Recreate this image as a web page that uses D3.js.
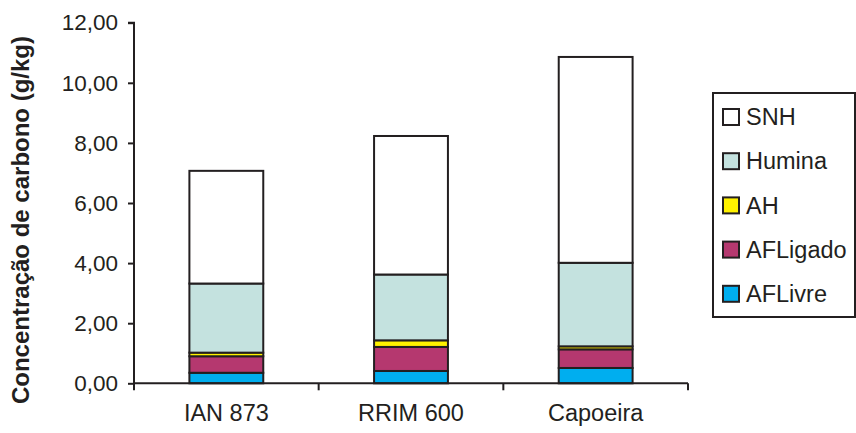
<!DOCTYPE html>
<html><head><meta charset="utf-8">
<script src="https://cdn.jsdelivr.net/npm/d3@7"></script>
<style>body{margin:0;background:#fff}svg{display:block}text{font-family:"Liberation Sans",Arial,sans-serif;fill:#231f20}</style>
</head><body><svg id="c" width="856" height="433"></svg>
<script>
const categories = ["IAN 873", "RRIM 600", "Capoeira"];
const seriesNames = ["AFLivre", "AFLigado", "AH", "Humina", "SNH"];
const AFLivre  = [0.35, 0.41, 0.51];
const AFLigado = [0.55, 0.80, 0.62];
const AH       = [0.12, 0.22, 0.10];
const Humina   = [2.30, 2.19, 2.78];
const SNH      = [3.75, 4.61, 6.85];
const yTicks = [0, 2, 4, 6, 8, 10, 12];
const colors = ["#00aeef", "#b5386f", "#fff200", "#c4e2df", "#ffffff"];
const legendOrder = ["SNH", "Humina", "AH", "AFLigado", "AFLivre"];
const yTitle = "Concentração de carbono (g/kg)";

const values = {AFLivre, AFLigado, AH, Humina, SNH};
const rows = categories.map((c, i) => {
  const r = {cat: c};
  seriesNames.forEach(s => r[s] = values[s][i]);
  return r;
});
const stack = d3.stack().keys(seriesNames)(rows);

const svg = d3.select("#c");
const ink = "#231f20";
const FF = '"Liberation Sans",Arial,sans-serif';
const x0 = 134, x1 = 688, yTop = 22.7, yBot = 383.3;
const x = d3.scaleBand().domain(categories).range([x0, x1]).paddingInner(0.6).paddingOuter(0.3);
const y = d3.scaleLinear().domain([0, 12]).range([yBot, yTop]);
const color = d3.scaleOrdinal().domain(seriesNames).range(colors);

// bars
svg.append("g").selectAll("g").data(stack).join("g")
  .attr("fill", d => color(d.key))
  .selectAll("rect").data(d => d).join("rect")
  .attr("x", d => x(d.data.cat))
  .attr("width", x.bandwidth())
  .attr("y", d => y(d[1]))
  .attr("height", d => y(d[0]) - y(d[1]))
  .attr("stroke", ink).attr("stroke-width", 2);

// y axis
const fmt = d => d.toFixed(2).replace(".", ",");
const ya = svg.append("g").attr("transform", `translate(${x0},0)`)
  .call(d3.axisLeft(y).tickValues(yTicks).tickFormat(fmt).tickSize(6).tickPadding(10));
ya.select(".domain").attr("stroke", ink).attr("stroke-width", 2).attr("d", `M-6,${yTop}H0V${yBot}`);
ya.selectAll(".tick line").attr("stroke", ink).attr("stroke-width", 2);
ya.selectAll(".tick text").attr("font-size", 22.5).attr("fill", ink).style("font-family", FF);

// x axis
const xa = svg.append("g").attr("transform", `translate(0,${yBot})`)
  .call(d3.axisBottom(x).tickSize(0).tickPadding(21));
xa.select(".domain").attr("stroke", ink).attr("stroke-width", 2).attr("d", `M${x0},0H${x1}`);
xa.selectAll(".tick text").attr("font-size", 23.5).attr("fill", ink).attr("dy", "0.71em").style("font-family", FF);
const bounds = d3.range(categories.length + 1).map(i => x0 + i * (x1 - x0) / categories.length);
svg.append("g").selectAll("line").data(bounds).join("line")
  .attr("x1", d => d).attr("x2", d => d).attr("y1", yBot).attr("y2", yBot + 7)
  .attr("stroke", ink).attr("stroke-width", 2);

// y title
svg.append("text")
  .attr("transform", `translate(29,220) rotate(-90)`)
  .attr("text-anchor", "middle")
  .attr("font-size", 24).attr("font-weight", "bold")
  .text(yTitle);

// legend
const lg = svg.append("g");
lg.append("rect").attr("x", 713).attr("y", 93).attr("width", 142).attr("height", 224)
  .attr("fill", "#fff").attr("stroke", ink).attr("stroke-width", 2);
const li = lg.selectAll("g.li").data(legendOrder).join("g").attr("class", "li")
  .attr("transform", (d, i) => `translate(723,${110 + i * 44.2})`);
li.append("rect").attr("width", 16).attr("height", 16).attr("y", -1)
  .attr("fill", d => color(d)).attr("stroke", ink).attr("stroke-width", 2);
li.append("text").attr("x", 23).attr("y", 7).attr("dy", "0.35em")
  .attr("font-size", 23.5).text(d => d);
</script></body></html>
